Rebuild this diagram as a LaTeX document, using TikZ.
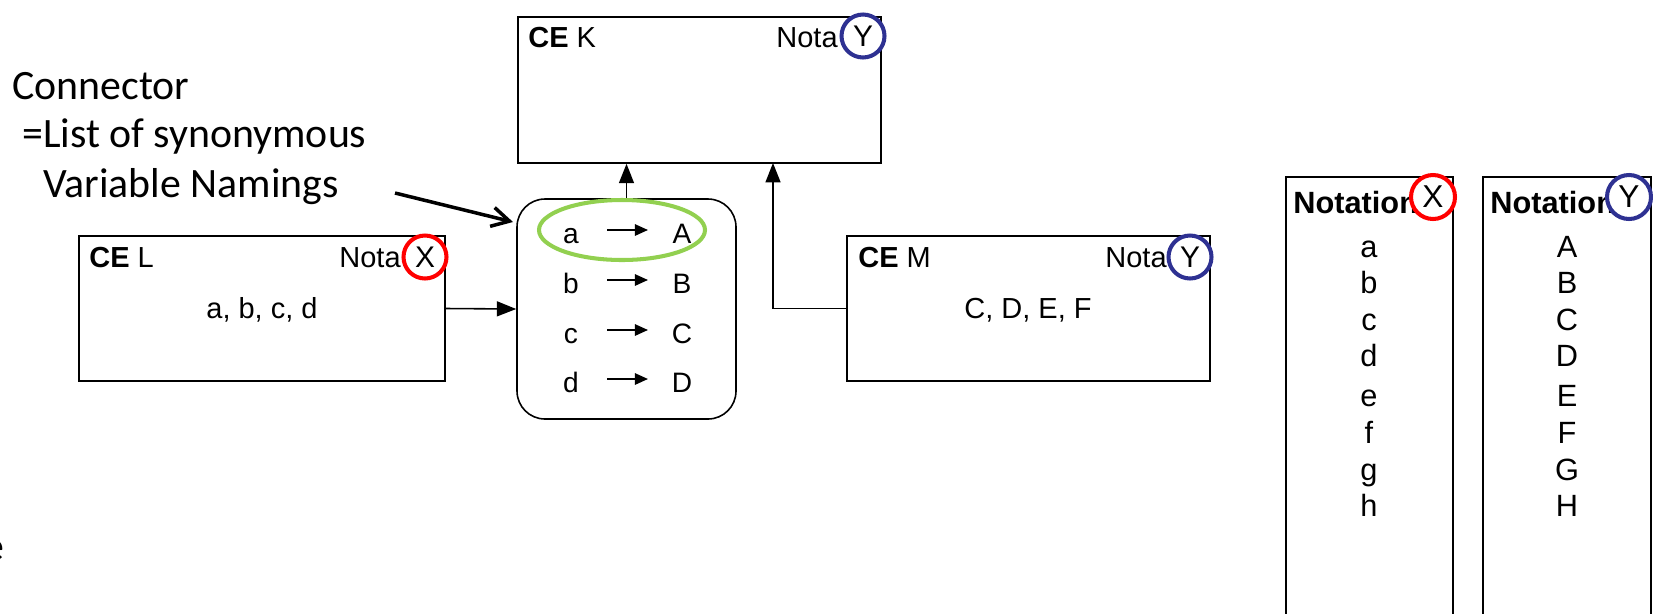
\documentclass[tikz,border=0pt]{standalone}
\usepackage{fontspec}
\setmainfont{Liberation Sans}
\newfontfamily\calib{Carlito}
\usetikzlibrary{arrows.meta}
\newcommand\pxu{0.02cm}
\definecolor{myred}{RGB}{255,0,0}
\definecolor{myblue}{RGB}{46,49,146}
\definecolor{mygreen}{RGB}{146,208,80}
\begin{document}
\begin{tikzpicture}[x=0.02cm,y=-0.02cm,
  box/.style={draw, line width=0.9pt, inner sep=0pt},
  lbl/.style={inner sep=0pt, font=\fontsize{16.5}{19}\selectfont},
  rowtxt/.style={inner sep=0pt, font=\fontsize{16}{19}\selectfont},
  rowarrow/.style={line width=1pt, -{Triangle[length=7.5pt,width=6.5pt]}},
  coltxt/.style={inner sep=0pt, font=\fontsize{17.5}{20}\selectfont},
  ann/.style={inner sep=0pt, font=\calib\fontsize{23.8}{28}\selectfont},
  circ/.style={circle, fill=white, line width=2.3pt, inner sep=0pt,
    minimum size={43*\pxu}, font=\fontsize{17}{20}\selectfont},
  conn/.style={line width=0.9pt, -{Triangle[length=11pt,width=8.5pt]}},
  annarrow/.style={line width=2pt, -{Straight Barb[length=10pt,width=11pt]}}
]
\clip (0,0) rectangle (1653,613);
% boxes
\node[box, minimum width={363*\pxu}, minimum height={146*\pxu}] (K) at (699.5,90) {};
\node[box, minimum width={366*\pxu}, minimum height={145*\pxu}] (L) at (262,308.5) {};
\node[box, minimum width={363*\pxu}, minimum height={145*\pxu}] (M) at (1028.5,308.5) {};
\node[box, rounded corners={28*\pxu}, minimum width={219*\pxu}, minimum height={220*\pxu}] (C) at (626.5,309) {};
\node[box, minimum width={167*\pxu}, minimum height={463*\pxu}] (NX) at (1369.5,408.5) {};
\node[box, minimum width={168*\pxu}, minimum height={463*\pxu}] (NY) at (1567,408.5) {};
% box labels
\node[lbl, anchor=base west] (Kt) at (528,47) {\textbf{CE} K};
\node[lbl, anchor=base east] (Kn) at (838,47) {Nota};
\node[lbl, anchor=base west] (Lt) at (89,267) {\textbf{CE} L};
\node[lbl, anchor=base east] (Ln) at (401,267) {Nota};
\node[lbl, anchor=base] (Lv) at (262,318) {a, b, c, d};
\node[lbl, anchor=base west] (Mt) at (858,267) {\textbf{CE} M};
\node[lbl, anchor=base east] (Mn) at (1167,267) {Nota};
\node[lbl, anchor=base] (Mv) at (1028,318) {C, D, E, F};
% notation headers
\node[coltxt, anchor=base west] (NXh) at (1293,213) {\textbf{Notation}};
\node[coltxt, anchor=base west] (NYh) at (1490,213) {\textbf{Notation}};
% circles
\node[circ, draw=myblue] (Kc) at (863,36) {Y};
\node[circ, draw=myred] (Lc) at (425,257) {X};
\node[circ, draw=myblue] (Mc) at (1190,257) {Y};
\node[circ, draw=myred, minimum size={44*\pxu}, font=\fontsize{18}{20}\selectfont] (NXc) at (1433,197) {X};
\node[circ, draw=myblue, minimum size={44*\pxu}, font=\fontsize{18}{20}\selectfont] (NYc) at (1629,197) {Y};
% green ellipse
\draw[mygreen, line width=2.3pt] (622,230) ellipse [x radius={83*\pxu}, y radius={30*\pxu}];
% connector rows
\foreach \l/\u/\y [count=\i] in {a/A/243, b/B/293, c/C/343, d/D/392} {
  \node[rowtxt, anchor=base] (rl\i) at (571,\y) {\l};
  \node[rowtxt, anchor=base] (ru\i) at (682,\y) {\u};
  \coordinate (rs\i) at (607,\y-13);
  \coordinate (re\i) at (648,\y-13);
  \draw[rowarrow] (rs\i) -- (re\i);
}
% notation columns
\foreach \l/\u/\y [count=\i] in {a/A/257, b/B/293, c/C/330, d/D/366, e/E/406, f/F/443, g/G/480, h/H/516} {
  \node[coltxt, anchor=base] (xl\i) at (1369,\y) {\l};
  \node[coltxt, anchor=base] (yu\i) at (1567,\y) {\u};
}
% annotation
\node[ann, anchor=base west] (a1) at (12,99) {Connector};
\node[ann, anchor=base west] (a2) at (22,147) {=List of synonymous};
\node[ann, anchor=base west] (a3) at (43,197) {Variable Namings};
\node[ann, anchor=base east] (efrag) at (5,560) {e};
\coordinate (as) at (395,193);
\coordinate (ae) at (513,222);
\draw[annarrow] (as) -- (ae);
% connectors
\draw[conn] (L.east) -- (C.west);
\draw[conn] (C.north) -- (C.north |- K.south);
\coordinate (kx) at (773,163);
\draw[conn] (M.west) -| (kx);
\end{tikzpicture}
\end{document}
